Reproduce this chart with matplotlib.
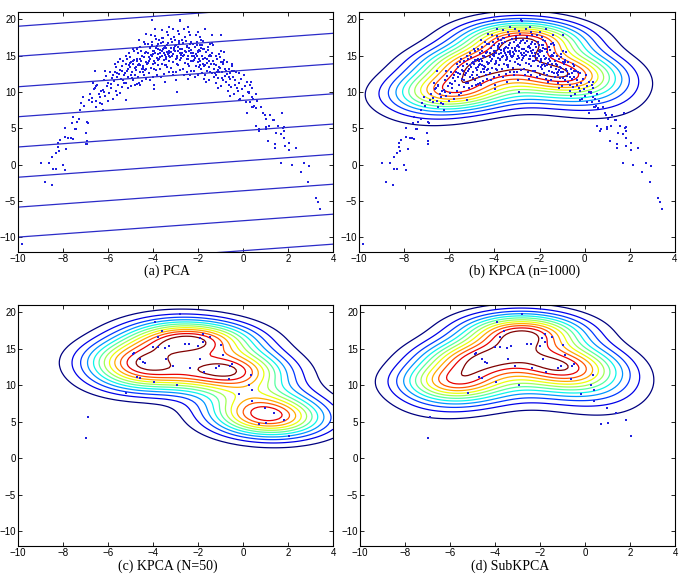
import numpy as np
import matplotlib
matplotlib.use('Agg')
import matplotlib.pyplot as plt

# sparse points (tails / outliers)
sparse_pts = [
    (-9.81, -10.9), (-8.99, 0.29), (-8.81, -2.36), (-8.64, 0.25), (-8.49, -2.77),
    (-8.44, -0.53), (-8.33, -0.62), (-8.47, 1.07), (-8.30, 1.57), (-8.21, 2.49),
    (-8.18, 1.94), (-8.22, 3.04), (-8.12, 3.40), (-8.00, 0.00), (-7.90, -0.70),
    (-7.93, 3.86), (-7.90, 5.00), (-7.76, 3.72), (-7.66, 3.72), (-7.57, 3.49),
    (-7.48, 4.96), (-7.85, 2.12), (-7.59, 5.69), (-7.56, 6.60), (-7.38, 5.92),
    (-7.44, 4.90), (-7.27, 6.24), (-7.26, 7.52), (-7.19, 8.43), (-7.11, 9.35),
    (-6.99, 4.32), (-6.93, 3.31), (-6.93, 2.81), (-6.93, 5.83), (-7.08, 8.07),
    (-6.84, 8.90), (-6.79, 9.67), (-6.73, 8.57), (-6.59, 10.6), (-6.52, 7.97),
    (-6.37, 8.43), (-6.22, 7.52), (-6.56, 12.82),
    (0.19, 7.15), (0.44, 7.97), (0.59, 7.75), (0.79, 7.88), (0.89, 7.06),
    (0.56, 5.32), (0.71, 4.90), (1.01, 5.23), (1.16, 5.32), (1.04, 6.28),
    (1.21, 6.83), (1.33, 6.14), (1.56, 5.32), (1.75, 7.15), (1.78, 5.00),
    (1.48, 4.32), (1.70, 4.18), (1.81, 3.63), (1.11, 3.26), (1.41, 2.26),
    (1.85, 2.58), (2.04, 2.03), (2.37, 2.26), (1.41, 2.81), (1.70, 0.20),
    (2.16, -0.07), (2.70, 0.20), (2.93, -0.12), (2.56, -1.03), (2.89, -2.36),
    (3.26, -4.60), (3.33, -5.15), (3.44, -6.06), (1.82, 4.64),
    (-4.03, 19.86), (-2.81, 19.86), (-2.43, 18.95), (-4.30, 18.0), (-2.00, 18.2),
    (-1.40, 17.8), (-0.96, 17.9), (-3.30, 18.9), (-1.70, 18.6),
]

# dense arc of points (estimated from panel a)
core_pts = [
    (-6.70, 9.2), (-6.62, 10.4), (-6.55, 8.8), (-6.48, 11.0), (-6.41, 9.7),
    (-6.33, 10.1), (-6.27, 8.4), (-6.66, 11.3), (-6.36, 9.3), (-6.52, 10.8),
    (-6.22, 10.3), (-6.18, 11.6), (-6.13, 9.4), (-6.09, 12.2), (-6.04, 10.8),
    (-5.99, 11.3), (-5.95, 9.9), (-5.91, 12.7), (-5.86, 10.6), (-5.82, 11.9),
    (-5.78, 9.1), (-6.15, 12.9), (-6.02, 8.7), (-5.88, 11.1), (-6.20, 10.0),
    (-5.80, 12.3),
    (-5.73, 11.5), (-5.70, 12.8), (-5.66, 10.2), (-5.63, 13.4), (-5.60, 12.1),
    (-5.57, 11.0), (-5.54, 14.1), (-5.51, 12.5), (-5.48, 9.8), (-5.45, 13.0),
    (-5.42, 11.8), (-5.39, 12.9), (-5.36, 10.7), (-5.33, 14.3), (-5.30, 12.3),
    (-5.27, 11.3), (-5.68, 13.9), (-5.58, 9.6), (-5.47, 14.6), (-5.35, 11.6),
    (-5.62, 12.6), (-5.40, 13.6),
    (-5.24, 12.6), (-5.21, 13.8), (-5.18, 11.2), (-5.15, 14.5), (-5.12, 13.1),
    (-5.09, 12.0), (-5.06, 15.3), (-5.03, 13.5), (-5.00, 10.8), (-4.97, 14.1),
    (-4.94, 12.8), (-4.91, 13.9), (-4.88, 11.6), (-4.85, 15.6), (-4.82, 13.3),
    (-4.79, 12.3), (-5.22, 15.0), (-5.13, 10.5), (-5.04, 14.8), (-4.95, 11.9),
    (-4.86, 14.4), (-4.77, 13.0), (-5.17, 12.9), (-5.08, 13.7), (-4.99, 12.4),
    (-4.90, 15.9), (-4.81, 10.9), (-5.01, 14.0),
    (-4.74, 13.4), (-4.71, 14.6), (-4.68, 12.1), (-4.65, 15.4), (-4.62, 13.9),
    (-4.59, 12.8), (-4.56, 16.2), (-4.53, 14.3), (-4.50, 11.5), (-4.47, 15.0),
    (-4.44, 13.6), (-4.41, 14.8), (-4.38, 12.4), (-4.35, 16.6), (-4.32, 14.1),
    (-4.29, 13.1), (-4.72, 15.9), (-4.63, 11.2), (-4.54, 15.7), (-4.45, 12.7),
    (-4.36, 15.3), (-4.27, 13.8), (-4.67, 13.7), (-4.58, 14.5), (-4.49, 13.2),
    (-4.40, 16.9), (-4.31, 11.8), (-4.51, 14.9), (-4.69, 14.2), (-4.43, 13.5),
    (-4.33, 15.5), (-4.61, 17.2),
    (-4.24, 14.0), (-4.21, 15.3), (-4.18, 12.6), (-4.15, 16.1), (-4.12, 14.5),
    (-4.09, 13.3), (-4.06, 16.9), (-4.03, 14.9), (-4.00, 12.0), (-3.97, 15.7),
    (-3.94, 14.2), (-3.91, 15.4), (-3.88, 13.0), (-3.85, 17.3), (-3.82, 14.7),
    (-3.79, 13.7), (-4.22, 16.6), (-4.13, 11.6), (-4.04, 16.4), (-3.95, 13.2),
    (-3.86, 16.0), (-3.77, 14.4), (-4.17, 14.3), (-4.08, 15.1), (-3.99, 13.8),
    (-3.90, 17.7), (-3.81, 12.3), (-4.01, 15.6), (-4.19, 14.8), (-3.93, 14.0),
    (-3.83, 16.3), (-4.11, 17.9), (-3.96, 10.9), (-3.80, 15.9),
    (-3.74, 14.6), (-3.71, 15.8), (-3.68, 13.1), (-3.65, 16.7), (-3.62, 15.0),
    (-3.59, 13.9), (-3.56, 17.4), (-3.53, 15.4), (-3.50, 12.5), (-3.47, 16.2),
    (-3.44, 14.8), (-3.41, 16.0), (-3.38, 13.5), (-3.35, 17.8), (-3.32, 15.2),
    (-3.29, 14.2), (-3.72, 17.1), (-3.63, 12.1), (-3.54, 16.9), (-3.45, 13.7),
    (-3.36, 16.5), (-3.27, 14.9), (-3.67, 14.8), (-3.58, 15.6), (-3.49, 14.4),
    (-3.40, 18.2), (-3.31, 12.8), (-3.51, 16.1), (-3.69, 15.3), (-3.43, 14.5),
    (-3.33, 16.8), (-3.61, 18.5), (-3.46, 11.4), (-3.30, 15.7), (-3.57, 15.9),
    (-3.39, 15.5),
    (-3.24, 14.8), (-3.21, 16.0), (-3.18, 13.3), (-3.15, 16.9), (-3.12, 15.2),
    (-3.09, 14.1), (-3.06, 17.6), (-3.03, 15.6), (-3.00, 12.7), (-2.97, 16.4),
    (-2.94, 15.0), (-2.91, 16.2), (-2.88, 13.7), (-2.85, 18.0), (-2.82, 15.4),
    (-2.79, 14.4), (-3.22, 17.3), (-3.13, 12.3), (-3.04, 17.1), (-2.95, 13.9),
    (-2.86, 16.7), (-2.77, 15.1), (-3.17, 15.0), (-3.08, 15.8), (-2.99, 14.6),
    (-2.90, 18.4), (-2.81, 13.0), (-3.01, 16.3), (-3.19, 15.5), (-2.93, 14.7),
    (-2.83, 17.0), (-3.11, 18.7), (-2.96, 11.6), (-2.80, 15.9), (-3.07, 16.1),
    (-2.89, 15.7),
    (-2.74, 14.7), (-2.71, 15.9), (-2.68, 13.2), (-2.65, 16.8), (-2.62, 15.1),
    (-2.59, 14.0), (-2.56, 17.5), (-2.53, 15.5), (-2.50, 12.7), (-2.47, 16.3),
    (-2.44, 14.9), (-2.41, 16.1), (-2.38, 13.6), (-2.35, 17.9), (-2.32, 15.3),
    (-2.29, 14.3), (-2.72, 17.2), (-2.63, 12.3), (-2.54, 17.0), (-2.45, 13.8),
    (-2.36, 16.6), (-2.27, 15.0), (-2.67, 14.9), (-2.58, 15.7), (-2.49, 14.5),
    (-2.40, 18.3), (-2.31, 12.9), (-2.51, 16.2), (-2.69, 15.4), (-2.43, 14.6),
    (-2.33, 16.9), (-2.61, 18.6), (-2.46, 11.8), (-2.30, 15.8),
    (-2.24, 14.3), (-2.21, 15.4), (-2.18, 12.9), (-2.15, 16.2), (-2.12, 14.7),
    (-2.09, 13.6), (-2.06, 16.9), (-2.03, 15.0), (-2.00, 12.3), (-1.97, 15.8),
    (-1.94, 14.5), (-1.91, 15.6), (-1.88, 13.2), (-1.85, 17.2), (-1.82, 14.9),
    (-1.79, 13.9), (-2.22, 16.6), (-2.13, 12.0), (-2.04, 16.5), (-1.95, 13.4),
    (-1.86, 16.1), (-1.77, 14.6), (-2.17, 14.4), (-2.08, 15.2), (-1.99, 14.1),
    (-1.90, 17.6), (-1.81, 12.6), (-2.01, 15.7), (-2.19, 15.0), (-1.93, 14.2),
    (-1.83, 16.4), (-2.11, 17.9),
    (-1.74, 13.6), (-1.71, 14.7), (-1.68, 12.3), (-1.65, 15.5), (-1.62, 14.0),
    (-1.59, 12.9), (-1.56, 16.2), (-1.53, 14.3), (-1.50, 11.7), (-1.47, 15.1),
    (-1.44, 13.8), (-1.41, 14.9), (-1.38, 12.6), (-1.35, 16.5), (-1.32, 14.2),
    (-1.29, 13.2), (-1.72, 15.9), (-1.63, 11.4), (-1.54, 15.8), (-1.45, 12.8),
    (-1.36, 15.4), (-1.27, 13.9), (-1.67, 13.7), (-1.58, 14.5), (-1.49, 13.4),
    (-1.40, 16.8), (-1.31, 12.0), (-1.51, 15.0),
    (-1.24, 12.6), (-1.21, 13.7), (-1.18, 11.3), (-1.15, 14.5), (-1.12, 13.0),
    (-1.09, 11.9), (-1.06, 15.2), (-1.03, 13.3), (-1.00, 10.8), (-0.97, 14.1),
    (-0.94, 12.8), (-0.91, 13.9), (-0.88, 11.6), (-0.85, 15.5), (-0.82, 13.2),
    (-0.79, 12.2), (-1.22, 14.9), (-1.13, 10.5), (-1.04, 14.8), (-0.95, 11.9),
    (-0.86, 14.4), (-0.77, 12.9), (-1.17, 12.7), (-1.08, 13.5),
    (-0.74, 11.4), (-0.70, 12.5), (-0.66, 10.2), (-0.62, 13.2), (-0.58, 11.8),
    (-0.54, 10.7), (-0.50, 13.9), (-0.46, 12.1), (-0.42, 9.7), (-0.38, 12.9),
    (-0.34, 11.6), (-0.30, 12.7), (-0.27, 10.5), (-0.72, 14.1), (-0.60, 9.4),
    (-0.48, 13.6), (-0.36, 10.9), (-0.64, 12.0),
    (-0.23, 10.1), (-0.18, 11.2), (-0.14, 9.0), (-0.09, 11.8), (-0.05, 10.4),
    (0.00, 9.5), (0.04, 12.3), (0.08, 10.8), (0.12, 8.6), (0.17, 11.4),
    (0.21, 10.0), (-0.20, 12.6),
    (0.28, 9.8), (0.33, 8.6), (0.38, 10.5), (0.44, 9.1), (0.50, 8.1),
    (0.56, 9.7), (0.62, 8.7), (0.31, 11.0),
]

# the 50 basis points shown in panels (c) and (d)
subset_pts = [
    (-2.80, 19.82), (-3.90, 18.68), (-3.62, 17.45), (-3.80, 16.62), (-4.83, 14.45),
    (-4.88, 14.28), (-4.02, 15.26), (-3.78, 15.20), (-3.48, 15.10), (-3.30, 15.40),
    (-2.58, 15.68), (-2.40, 15.68), (-1.98, 15.44), (-1.90, 16.48), (-1.78, 17.03),
    (-1.76, 15.94), (-1.48, 16.60), (-0.98, 15.58), (-4.56, 13.66), (-4.46, 13.18),
    (-4.35, 13.06), (-3.42, 13.66), (-1.89, 13.66), (-0.88, 14.10), (-3.12, 12.70),
    (-2.36, 12.34), (-1.72, 11.85), (-1.20, 12.38), (-1.06, 12.70), (-0.56, 12.66),
    (-0.48, 12.86), (-4.72, 11.12), (-4.60, 11.02), (-3.96, 10.46), (-2.92, 10.06),
    (-0.64, 10.90), (0.36, 11.40), (0.28, 10.00), (0.38, 9.36), (-0.20, 8.85),
    (-5.22, 8.90), (0.42, 7.90), (0.96, 6.90), (1.37, 6.15), (1.84, 5.20),
    (0.70, 4.66), (1.00, 4.85), (2.04, 3.05), (-6.90, 5.72), (-6.96, 2.82),
]

# PCA contour lines: y at x=-10 and common slope
pca_left_y = [19.04, 14.92, 10.72, 6.60, 2.44, -1.72, -5.83, -9.95, -14.07]
pca_slope = 0.225

captions = ['(a) PCA', '(b) KPCA (n=1000)', '(c) KPCA (N=50)', '(d) SubKPCA']
xticks = [-10, -8, -6, -4, -2, 0, 2, 4]
yticks = [-10, -5, 0, 5, 10, 15, 20]

full_pts = np.array(sparse_pts + core_pts + subset_pts)
sub_pts = np.array(subset_pts)

gx, gy = np.meshgrid(np.linspace(-10, 4, 106), np.linspace(-12, 21, 124))
sigma = 2.35
n_comp = 4


def gram(a, b):
    d2 = (a[:, None, 0] - b[None, :, 0]) ** 2 + (a[:, None, 1] - b[None, :, 1]) ** 2
    return np.exp(-d2 / (2 * sigma ** 2))


def subkpca_map(basis, data):
    # projection norm onto the leading kernel principal subspace
    # (basis == data gives ordinary KPCA)
    Kxx = gram(basis, basis) + 1e-8 * np.eye(len(basis))
    Kxy = gram(basis, data)
    L = np.linalg.cholesky(Kxx)
    Li = np.linalg.inv(L)
    M = Li @ Kxy @ Kxy.T @ Li.T
    w, Q = np.linalg.eigh(M)
    U = Li.T @ Q[:, -n_comp:]
    g = np.column_stack([gx.ravel(), gy.ravel()])
    f = gram(g, basis) @ U
    return (f ** 2).sum(1).reshape(gx.shape)


z_full = subkpca_map(full_pts, full_pts)
z_sub = subkpca_map(sub_pts, sub_pts)
z_skp = subkpca_map(sub_pts, full_pts)

fig = plt.figure(figsize=(6.82, 5.8), dpi=100)
pos = [[0.0264, 0.5655, 0.4619, 0.4138], [0.5264, 0.5655, 0.4633, 0.4138],
       [0.0264, 0.0586, 0.4619, 0.4155], [0.5279, 0.0586, 0.4619, 0.4155]]
axes = [fig.add_axes(p) for p in pos]

ax = axes[0]
xl = np.array([-10, 4])
for b in pca_left_y:
    ax.plot(xl, b + pca_slope * (xl + 10), color='#2b2bc8', lw=0.9)
ax.scatter(full_pts[:, 0], full_pts[:, 1], s=1.8, c='#1f1fe0', marker='s', lw=0)

for ax, z, pts in [(axes[1], z_full, full_pts), (axes[2], z_sub, sub_pts), (axes[3], z_skp, sub_pts)]:
    lv = np.linspace(0, z.max(), 14)[1:-1]
    ax.contour(gx, gy, z, levels=lv, cmap='jet', linewidths=0.9)
    ax.scatter(pts[:, 0], pts[:, 1], s=1.8, c='#1f1fe0', marker='s', lw=0, zorder=3)

for ax in axes:
    ax.set_xlim(-10, 4)
    ax.set_ylim(-12, 21)
    ax.set_xticks(xticks)
    ax.set_yticks(yticks)
    ax.tick_params(direction='in', top=True, right=True, length=3, width=0.6,
                   labelsize=7, pad=1.5)
    for lab in ax.get_xticklabels() + ax.get_yticklabels():
        lab.set_family('Liberation Sans')
    for s in ax.spines.values():
        s.set_linewidth(0.8)

cap_xy = [(167, 271), (525, 271), (168, 566), (510, 566)]
for (cx, cy), t in zip(cap_xy, captions):
    fig.text(cx / 682, 1 - cy / 580, t, ha='center', va='center',
             family='Liberation Serif', fontsize=10)

fig.savefig('out.png', dpi=100)
